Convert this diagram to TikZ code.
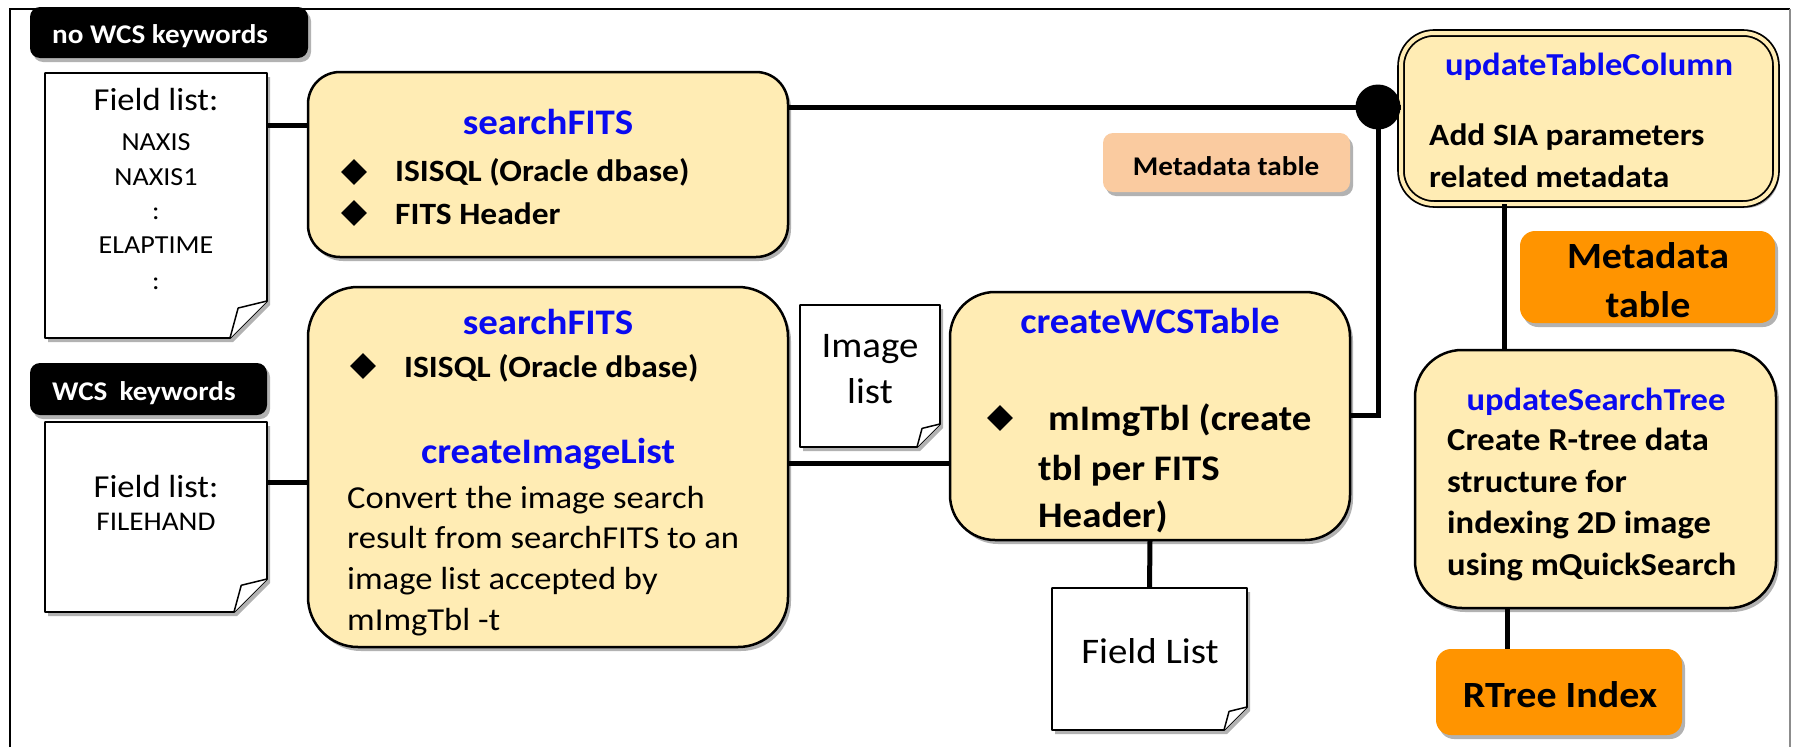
\documentclass[tikz,border=0pt]{standalone}
\usepackage{fontspec}
\setmainfont{Carlito}[FakeStretch=1.08]
\usetikzlibrary{calc,shapes.geometric,shadows}
\definecolor{ycream}{RGB}{255,236,180}
\definecolor{tblue}{RGB}{10,10,240}
\definecolor{orng}{RGB}{255,148,0}
\definecolor{peach}{RGB}{250,203,160}
\newcommand\fsz[1]{\fontsize{#1}{#1}\selectfont}
\newcommand\drawpaper[2]{%
  \fill[white,shd] (#1.north west) -- (#1.north east) -- ($(#1.south east)+(0,-#2)$) -- ($(#1.south east)+(-#2,0)$) -- (#1.south west) -- cycle;
  \draw[line width=1.8,line join=round] (#1.north west) -- (#1.north east) -- ($(#1.south east)+(0,-#2)$) -- ($(#1.south east)+(-#2,0)$) -- (#1.south west) -- cycle;
  \draw[line width=1.5,fill=white,line join=round] ($(#1.south east)+(0,-#2)$) -- ($(#1.south east)+(-0.78*#2,-0.81*#2)$) -- ($(#1.south east)+(-#2,0)$);
}
\begin{document}
\begin{tikzpicture}[x=1pt,y=-1pt,
  shd/.style={drop shadow={shadow xshift=3pt,shadow yshift=-4pt,opacity=0.3,fill=black}},
  box/.style={draw=black,line width=2.5,fill=ycream,shd,anchor=north west,inner sep=0,outer sep=0},
  obox/.style={fill=orng,shd,anchor=north west,inner sep=0,outer sep=0,rounded corners=15},
  lbl/.style={fill=black,shd,anchor=north west,inner sep=0,outer sep=0,rounded corners=10},
  paper/.style={anchor=north west,inner sep=0,outer sep=0},
  conn/.style={line width=5},
  bul/.style={diamond,fill=black,minimum width=26,minimum height=26,inner sep=0},
  ttl/.style={anchor=base,inner sep=0,text=tblue,font=\bfseries\fsz{36}},
  ttls/.style={anchor=base,inner sep=0,text=tblue,font=\bfseries\fsz{32}},
  lbltxt/.style={anchor=base west,inner sep=0,text=white,font=\bfseries\fsz{27}},
  pt/.style={anchor=base,inner sep=0,font=\fsz{#1}},
  bt/.style={anchor=base west,inner sep=0,font=\bfseries\fsz{#1}},
  rt/.style={anchor=base west,inner sep=0,font=\fsz{#1}},
  bc/.style={anchor=base,inner sep=0,font=\bfseries\fsz{#1}}
]
\useasboundingbox (0,0) rectangle (1793,747);
\fill[white] (0,0) rectangle (1793,747);
\draw[line width=1.5] (10,747) -- (10,9) -- (1790,9);
\draw[line width=1.5,black!45] (1790,9) -- (1790,747);

% labels
\node[lbl,minimum width=278,minimum height=51] (nowcs) at (30,7) {};
\node[lbltxt] (nowcst) at (52,43) {no WCS keywords};
\node[lbl,minimum width=237,minimum height=52] (wcs0) at (30,363) {};
\node[lbltxt] (wcs0t) at (52,400) {WCS\hspace{0.45em}keywords};

% papers
\node[paper,minimum width=222,minimum height=265] (p1) at (45,73) {};
\drawpaper{p1}{37}
\node[paper,minimum width=222,minimum height=190] (p2) at (45,422) {};
\drawpaper{p2}{33}
\node[paper,minimum width=140,minimum height=142] (pimg) at (800,305) {};
\drawpaper{pimg}{23}
\node[paper,minimum width=195,minimum height=142] (p3) at (1052,588) {};
\drawpaper{p3}{23}

% boxes
\node[box,rounded corners=32,minimum width=480,minimum height=185] (b1) at (308,72) {};
\node[box,rounded corners=50,minimum width=480,minimum height=360] (b2) at (308,287) {};
\node[box,rounded corners=45,minimum width=400,minimum height=248] (wcs) at (950,292) {};
\node[box,rounded corners=33,minimum width=375,minimum height=171,line width=1.8,double=ycream,double distance=4] (utc) at (1401,33) {};
\node[box,rounded corners=47,minimum width=361,minimum height=258] (ust) at (1415,350) {};
\node[obox,minimum width=255,minimum height=92] (meta) at (1520,231) {};
\node[obox,minimum width=246,minimum height=86] (rtree) at (1436,649) {};
\node[obox,fill=peach,rounded corners=10,minimum width=247,minimum height=59] (mpeach) at (1103,133) {};

% connectors
\coordinate (ya) at (0,125);
\coordinate (yb) at (0,107);
\coordinate (yc) at (0,482);
\coordinate (yd) at (0,463);
\coordinate (ye) at (0,415);
\coordinate (xf) at (1504,0);
\coordinate (xg) at (1507,0);
\node[circle,fill=black,minimum size=45,inner sep=0] (dot) at (1378,107) {};
\draw[conn] (p1.east |- ya) -- (b1.west |- ya);
\draw[conn] (b1.east |- yb) -- (dot.center);
\draw[conn] (dot.center) -- (utc.west |- yb);
\draw[conn] (p2.east |- yc) -- (b2.west |- yc);
\draw[conn] (b2.east |- yd) -- (wcs.west |- yd);
\draw[conn] (wcs.east |- ye) -| (dot.center);
\draw[conn] (wcs.south) -- (p3.north);
\draw[conn] (utc.south -| xf) -- (ust.north -| xf);
\draw[conn] (ust.south -| xg) -- (rtree.north -| xg);

% paper texts
\node[pt=32] (p1a) at (156,110) {Field list:};
\node[pt=26] (p1b) at (156,150) {NAXIS};
\node[pt=26] (p1c) at (156,185) {NAXIS1};
\node[pt=26] (p1d) at (156,219) {:};
\node[pt=26] (p1e) at (156,253) {ELAPTIME};
\node[pt=26] (p1f) at (156,289) {:};
\node[pt=32] (p2a) at (156,497) {Field list:};
\node[pt=27] (p2b) at (156,530) {FILEHAND};
\node[pt=36] (pimga) at (870,357) {Image};
\node[pt=36] (pimgb) at (870,403) {list};
\node[pt=36] (p3a) at (1150,663) {Field List};

% box 1
\node[ttl] (t1) at (548,134) {searchFITS};
\node[bul] (d11) at (354,172) {};
\node[bt=31] (l11) at (395,181) {ISISQL (Oracle dbase)};
\node[bul] (d12) at (354,213) {};
\node[bt=31] (l12) at (395,224) {FITS Header};

% box 2
\node[ttl] (t2) at (548,334) {searchFITS};
\node[bul] (d21) at (363,366) {};
\node[bt=31] (l21) at (404,377) {ISISQL (Oracle dbase)};
\node[ttl] (t3) at (548,463) {createImageList};
\node[rt=32] (l22) at (347,508) {Convert the image search};
\node[rt=32] (l23) at (347,548) {result from searchFITS to an};
\node[rt=32] (l24) at (347,589) {image list accepted by};
\node[rt=32] (l25) at (347,630) {mImgTbl -t};

% createWCSTable
\node[ttl] (t4) at (1150,333) {createWCSTable};
\node[bul] (d41) at (1000,418) {};
\node[bt=36] (l41) at (1048,430) {mImgTbl (create};
\node[bt=36] (l42) at (1038,480) {tbl per FITS};
\node[bt=36] (l43) at (1038,527) {Header)};

% updateTableColumn
\node[ttls] (t5) at (1589,75) {updateTableColumn};
\node[bt=31] (l51) at (1429,145) {Add SIA parameters};
\node[bt=31] (l52) at (1429,187) {related metadata};

% updateSearchTree
\node[ttls] (t6) at (1596,410) {updateSearchTree};
\node[bt=32] (l61) at (1447,450) {Create R-tree data};
\node[bt=32] (l62) at (1447,492) {structure for};
\node[bt=32] (l63) at (1447,533) {indexing 2D image};
\node[bt=32] (l64) at (1447,575) {using mQuickSearch};

% orange / peach texts
\node[bc=37] (m1) at (1648,268) {Metadata};
\node[bc=37] (m2) at (1648,317) {table};
\node[bc=37] (r1) at (1560,707) {RTree Index};
\node[bc=27] (mp) at (1226,175) {Metadata table};
\end{tikzpicture}
\end{document}
